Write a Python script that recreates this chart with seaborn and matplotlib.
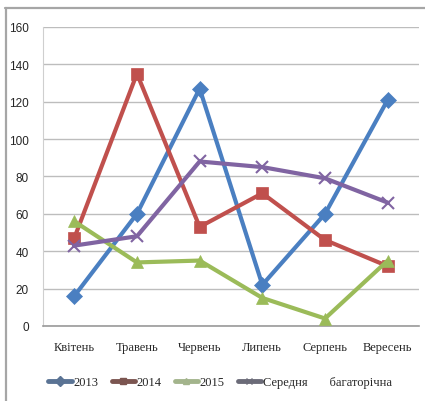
import matplotlib
matplotlib.use("Agg")
import matplotlib.pyplot as plt
from matplotlib.lines import Line2D
import seaborn as sns
import pandas as pd

months = ["Квітень", "Травень", "Червень", "Липень", "Серпень", "Вересень"]
y2013 = [16, 60, 127, 22, 60, 121]
y2014 = [47, 135, 53, 71, 46, 32]
y2015 = [56, 34, 35, 15, 4, 35]
avg = [43, 48, 88, 85, 79, 66]
series_names = ["2013", "2014", "2015", "Середня багаторічна"]
legend_labels = ["2013", "2014", "2015", "Середня       багаторічна"]

colors = ["#4a7fc1", "#c0504d", "#9bbb59", "#8064a2"]
legend_colors = ["#5a7394", "#7b5550", "#a3b48c", "#6b6b78"]
markers = ["D", "s", "^", "x"]

df = pd.DataFrame({
    "month": months * 4,
    "value": y2013 + y2014 + y2015 + avg,
    "series": sum([[n] * len(months) for n in series_names], []),
})

sns.set_style("white")
fig = plt.figure(figsize=(4.25, 4.02), dpi=100)
ax = fig.add_axes([0.101, 0.1866, 0.885, 0.744])
ax.set_axisbelow(True)
ax.yaxis.grid(True, color="#bdbdbd", linewidth=1.0)

for name, c, m in zip(series_names, colors, markers):
    sub = df[df["series"] == name]
    sns.lineplot(data=sub, x="month", y="value", ax=ax, color=c, linewidth=3.0,
                 marker=m, markersize=8 if m != "x" else 9,
                 markeredgewidth=1.5 if m == "x" else 0.5,
                 markeredgecolor=c, sort=False, legend=False, zorder=3)

ax.set_xlim(-0.5, 5.5)
ax.set_ylim(0, 160)
ax.set_yticks(range(0, 161, 20))
ax.set_xlabel("")
ax.set_ylabel("")
for s in ["top", "right"]:
    ax.spines[s].set_visible(False)
ax.spines["left"].set_color("#cfcfcf")
ax.spines["bottom"].set_color("#9a9a9a")
ax.spines["bottom"].set_linewidth(1.2)
ax.tick_params(axis="y", length=0, pad=10, labelsize=8.5)
ax.tick_params(axis="x", length=0, pad=11, labelsize=9)
for t in ax.get_yticklabels():
    t.set_fontfamily("Liberation Sans")
for t in ax.get_xticklabels():
    t.set_fontfamily("Liberation Serif")

handles = [Line2D([0], [0], color=c, linewidth=3.5, marker=m, markersize=5,
                  markeredgecolor=c)
           for c, m in zip(legend_colors, markers)]
fig.legend(handles, legend_labels, loc="center", bbox_to_anchor=(0.518, 0.047),
           ncol=4, frameon=False, handlelength=1.85, handletextpad=0.15,
           columnspacing=1.05, prop={"family": "Liberation Serif", "size": 9})

# outer frame
fig.add_artist(Line2D([0.012, 1.0], [0.978, 0.978], color="#a6a6a6", linewidth=1.6,
                      transform=fig.transFigure))
fig.add_artist(Line2D([0.014, 0.014], [0.0, 0.978], color="#a6a6a6", linewidth=1.6,
                      transform=fig.transFigure))

fig.savefig("out.png", dpi=100)
